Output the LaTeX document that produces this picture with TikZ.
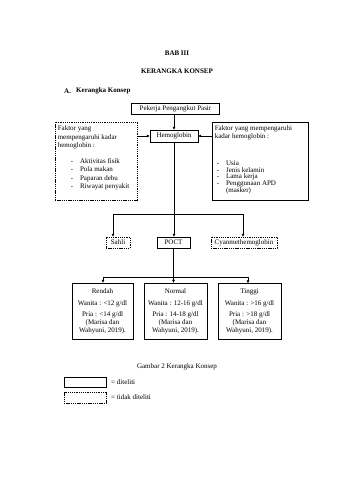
\documentclass[tikz,border=0pt]{standalone}
\usepackage{fontspec}
\setmainfont{Liberation Serif}
\usetikzlibrary{arrows.meta,calc}
\begin{document}
\begin{tikzpicture}[x=1pt,y=-1pt,
  every node/.style={font=\fontsize{7}{8}\selectfont, inner sep=0pt},
  solidbox/.style={draw, line width=0.9pt, minimum width=#1, align=center},
  dashbox/.style={draw, line width=0.9pt, dash pattern=on 1.3pt off 0.9pt, minimum width=#1, align=center},
  conn/.style={line width=0.55pt},
  arr/.style={line width=0.55pt, -{Triangle[length=2.6pt,width=2.4pt]}},
  hdr/.style={font=\fontsize{7}{8}\bfseries\selectfont}
]
\useasboundingbox (0,0) rectangle (339,480);
\fill[white] (0,0) rectangle (339,480);

% headers
\node[hdr] (bab) at (177,53) {BAB III};
\node[hdr] (kk) at (177,71) {KERANGKA KONSEP};
\node[hdr, anchor=west] (aa) at (64,91) {A.};
\node[hdr, anchor=west] (ak) at (76,91) {Kerangka Konsep};

% top box
\node[solidbox=88pt, minimum height=11pt] (top) at (175.5,109) {Pekerja Pengangkut Pasir};
\node[solidbox=48pt, minimum height=12pt] (hemo) at (174,136) {Hemoglobin};

% left dashed box
\node[dashbox=82pt, minimum height=78pt] (lf) at (96,161) {};
\node[anchor=north west, align=left] (lft) at ($(lf.north west)+(3,4)$)
  {Faktor yang\\[0.6pt] mempengaruhi kadar\\[0.6pt] hemoglobin :};
\node[anchor=north west, align=left] (lfl) at ($(lf.north west)+(16,37)$)
  {-\hspace{7pt}Aktivitas fisik\\[0.3pt] -\hspace{7pt}Pola makan\\[0.3pt] -\hspace{7pt}Paparan debu\\[0.3pt] -\hspace{7pt}Riwayat penyakit};

% right box
\node[solidbox=96pt, minimum height=78pt] (rf) at (260,161) {};
\node[anchor=north west, align=left] (rft) at ($(rf.north west)+(3,4)$)
  {Faktor yang mempengaruhi\\[0pt] kadar hemoglobin :};
\node[anchor=north west, align=left] (rfl) at ($(rf.north west)+(5,39)$)
  {-\hspace{7pt}Usia\\[-1.2pt] -\hspace{7pt}Jenis kelamin\\[-1.2pt] -\hspace{7pt}Lama kerja\\[-1.2pt] -\hspace{7pt}Penggunaan APD\\[-1.2pt] \phantom{-}\hspace{7pt}(masker)};

\draw[arr] (top.south -| hemo) -- (hemo.north);
\draw[arr] (hemo.west -| lf.east) -- (hemo.west);
\draw[arr] (hemo.east -| rf.west) -- (hemo.east);

% methods
\node[dashbox=24pt, minimum height=11pt] (sahli) at (118,242.5) {Sahli};
\node[solidbox=33pt, minimum height=11pt] (poct) at (173.5,242.5) {POCT};
\node[dashbox=66pt, minimum height=11pt] (cyan) at (244,242.5) {Cyanmethemoglobin};

\coordinate (j1) at (174,214);
\coordinate (j1l) at (113,214);
\coordinate (j1r) at (243,214);
\draw[conn] (hemo.south) -- (j1);
\draw[conn] (j1l) -- (j1r);
\draw[arr] (j1l) -- (j1l |- sahli.north);
\draw[arr] (j1) -- (j1 |- poct.north);
\draw[arr] (j1r) -- (j1r |- cyan.north);

% results
\node[solidbox=61pt, minimum height=56pt] (ren) at (102.5,311)
  {Rendah\\[4.3pt] Wanita : {<}12 g/dl\\[2.8pt] Pria : {<}14 g/dl\\[0pt] (Marisa dan\\ Wahyuni, 2019).};
\node[solidbox=63pt, minimum height=56pt] (nor) at (175.5,311)
  {Normal\\[4.3pt] Wanita : 12-16 g/dl\\[2.8pt] Pria : 14-18 g/dl\\[0pt] (Marisa dan\\ Wahyuni, 2019).};
\node[solidbox=63pt, minimum height=56pt] (tin) at (249.5,311.5)
  {Tinggi\\[4.3pt] Wanita : {>}16 g/dl\\[2.8pt] Pria : {>}18 g/dl\\[0pt] (Marisa dan\\ Wahyuni, 2019).};

\coordinate (j2) at (173.5,277);
\coordinate (j2l) at (103,277);
\coordinate (j2r) at (248,277);
\draw[conn] (poct.south) -- (j2);
\draw[conn] (j2l) -- (j2r);
\draw[arr] (j2l) -- (j2l |- ren.north);
\draw[arr] (j2) -- (j2 |- nor.north);
\draw[arr] (j2r) -- (j2r |- tin.north);

% caption and legend
\node (cap) at (177,367) {Gambar 2 Kerangka Konsep};
\node[solidbox=42pt, minimum height=10pt] (lg1) at (85,382) {};
\node[anchor=west] (lg1t) at (111,382) {= diteliti};
\node[dashbox=42pt, minimum height=11pt] (lg2) at (85,398) {};
\node[anchor=west] (lg2t) at (111,397) {= tidak diteliti};
\end{tikzpicture}
\end{document}
